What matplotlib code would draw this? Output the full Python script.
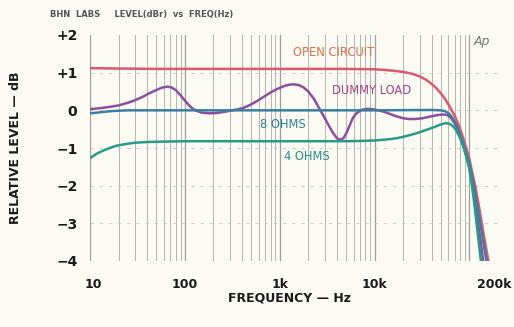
import matplotlib
matplotlib.use("Agg")
import matplotlib.pyplot as plt
import matplotlib.transforms as mtransforms

# ---- data ----
x_ticks = [10, 100, 1000, 10000, 200000]
x_tick_labels = ["10", "100", "1k", "10k", "200k"]
y_ticks = [2, 1, 0, -1, -2, -3, -4]
y_tick_labels = ["+2", "+1", "0", "\u22121", "\u22122", "\u22123", "\u22124"]

oc_f = [10, 20, 50, 100, 200, 500, 1000, 2000, 5000, 10000, 13000, 16000, 20000,
        25000, 30000, 35000, 40000, 45000, 50000, 55000, 60000, 65000, 70000,
        75000, 80000, 85000, 90000, 95000, 100000, 107000, 115000, 122000, 130000,
        137000, 145000, 152000, 160000, 170000]
oc_db = [1.12, 1.11, 1.1, 1.1, 1.1, 1.1, 1.1, 1.1, 1.1, 1.09, 1.07, 1.05, 1.02,
         0.97, 0.9, 0.81, 0.7, 0.58, 0.45, 0.31, 0.16, 0.0, -0.15, -0.32, -0.5,
         -0.7, -0.9, -1.1, -1.3, -1.65, -2.0, -2.35, -2.75, -3.1, -3.45, -3.75,
         -4.05, -4.4]

dl_f = [10, 13, 16, 20, 25, 30, 36, 42, 50, 57, 65, 72, 80, 90, 100, 110, 120,
        135, 150, 180, 220, 260, 300, 350, 410, 485, 580, 700, 820, 930, 1100,
        1250, 1400, 1600, 1800, 2000, 2300, 2600, 2900, 3200, 3600, 4000, 4300,
        4700, 5100, 5500, 5900, 6500, 7300, 8200, 9500, 11000, 13000, 15000,
        17000, 20000, 23000, 27000, 32000, 38000, 45000, 52000, 58000, 64000,
        70000, 75000, 80000, 85000, 90000, 95000, 100000, 107000, 115000, 122000,
        130000, 138000, 145000]
dl_db = [0.03, 0.06, 0.09, 0.13, 0.2, 0.27, 0.36, 0.45, 0.54, 0.6, 0.63, 0.61,
         0.54, 0.4, 0.26, 0.14, 0.05, -0.02, -0.06, -0.08, -0.07, -0.04, -0.01,
         0.02, 0.06, 0.14, 0.25, 0.38, 0.49, 0.56, 0.64, 0.68, 0.69, 0.67, 0.6,
         0.5, 0.3, 0.06, -0.15, -0.35, -0.58, -0.74, -0.78, -0.74, -0.58, -0.38,
         -0.2, -0.07, 0.01, 0.04, 0.03, 0.0, -0.05, -0.11, -0.16, -0.21, -0.23,
         -0.23, -0.21, -0.17, -0.13, -0.11, -0.12, -0.2, -0.35, -0.5, -0.7, -0.9,
         -1.1, -1.32, -1.55, -1.95, -2.45, -2.9, -3.4, -3.9, -4.3]

e_f = [10, 12, 14, 17, 20, 25, 30, 100, 1000, 10000, 40000, 50000, 55000, 60000,
       65000, 70000, 75000, 80000, 85000, 90000, 95000, 100000, 110000, 120000,
       130000, 140000, 150000, 160000]
e_db = [-0.08, -0.06, -0.04, -0.02, -0.01, 0.0, 0.0, 0.0, 0.0, 0.0, 0.01, 0.0,
        -0.02, -0.07, -0.17, -0.3, -0.46, -0.65, -0.85, -1.05, -1.22, -1.4,
        -1.95, -2.5, -3.0, -3.5, -3.95, -4.3]

f_f = [10, 11, 12, 13.5, 15, 17, 19, 22, 26, 30, 40, 60, 100, 1000, 5000, 8000,
       10000, 12500, 15000, 18000, 21000, 25000, 30000, 35000, 41000, 47000,
       52000, 57000, 62000, 67000, 72000, 77000, 82000, 87000, 92000, 100000,
       107000, 114000, 120000, 128000, 134000]
f_db = [-1.27, -1.2, -1.14, -1.08, -1.03, -0.98, -0.94, -0.91, -0.88, -0.86,
        -0.84, -0.83, -0.82, -0.82, -0.82, -0.81, -0.8, -0.78, -0.76, -0.73,
        -0.69, -0.64, -0.58, -0.52, -0.46, -0.4, -0.36, -0.34, -0.36, -0.42,
        -0.52, -0.66, -0.82, -1.0, -1.2, -1.55, -2.05, -2.6, -3.1, -3.7, -4.15]

series = [
    ("OPEN CIRCUIT", oc_f, oc_db, "#d85a70"),
    ("DUMMY LOAD", dl_f, dl_db, "#8c4f9c"),
    ("8 OHMS", e_f, e_db, "#3a7fa2"),
    ("4 OHMS", f_f, f_db, "#2a9a88"),
]

W, H = 514, 327
bg = "#fbfbf4"
fig = plt.figure(figsize=(W / 100, H / 100), dpi=100, facecolor=bg)
left, right, top, bottom = 90, 498, 35, 261
ax = fig.add_axes([left / W, 1 - bottom / H, (right - left) / W, (bottom - top) / H])
ax.set_facecolor(bg)
ax.set_xscale("log")
ax.set_xlim(10, 200000)
ax.set_ylim(-4, 2)

# vertical grid lines at every 1-2-...-9 step
for dec in [10, 100, 1000, 10000, 100000]:
    for m in range(1, 10):
        v = dec * m
        if v > 200000:
            break
        ax.axvline(v, color="#8e8e8e" if m == 1 else "#a8a8a8",
                   lw=0.9 if m == 1 else 0.7, alpha=0.85, zorder=1)
ax.axvline(200000, color="#a8a8a8", lw=0.8, zorder=1)
# horizontal dashed grid
for yv in [1, 0, -1, -2, -3, -4]:
    ax.axhline(yv, color="#c4c4c4", lw=0.6, ls=(0, (4, 7)), zorder=1)

for name, fx, fy, col in series:
    ax.plot(fx, fy, color=col, lw=1.8, zorder=3, solid_capstyle="round",
            solid_joinstyle="round")

for s in ax.spines.values():
    s.set_visible(False)
ax.set_xticks(x_ticks)
ax.set_xticklabels(x_tick_labels)
ax.xaxis.set_minor_locator(matplotlib.ticker.NullLocator())
ax.set_yticks(y_ticks)
ax.set_yticklabels(y_tick_labels)
ax.tick_params(axis="both", length=0, colors="#1a1a1a")
ax.tick_params(axis="x", pad=12, labelsize=9)
ax.tick_params(axis="y", pad=9, labelsize=10)
for t in ax.get_xticklabels() + ax.get_yticklabels():
    t.set_fontweight("bold")
# shift edge tick labels slightly, as in the reference
xl = ax.get_xticklabels()
xl[-1].set_transform(xl[-1].get_transform() +
                     mtransforms.ScaledTranslation(-4 / 100, 0, fig.dpi_scale_trans))
xl[0].set_transform(xl[0].get_transform() +
                    mtransforms.ScaledTranslation(3 / 100, 0, fig.dpi_scale_trans))

# curve labels
lab_kw = dict(fontsize=8.3, ha="center", va="center", zorder=4)
fig.text(334 / W, 1 - 52 / H, "OPEN CIRCUIT", color="#d4704f", **lab_kw)
fig.text(372 / W, 1 - 90 / H, "DUMMY LOAD", color="#a04584", **lab_kw)
fig.text(283 / W, 1 - 125 / H, "8 OHMS", color="#2b7f98", **lab_kw)
fig.text(307 / W, 1 - 157 / H, "4 OHMS", color="#2a8f86", **lab_kw)

fig.text(482 / W, 1 - 41 / H, "Ap", fontsize=9, style="italic", color="#777777",
         ha="center", va="center")
fig.text(50 / W, 1 - 15 / H, "BHN  LABS     LEVEL(dBr)  vs  FREQ(Hz)", fontsize=6,
         fontweight="bold", color="#555555", ha="left", va="center")

fig.text(290 / W, 1 - 298 / H, "FREQUENCY \u2014 Hz", fontsize=9, fontweight="bold",
         color="#1a1a1a", ha="center", va="center")
fig.text(16 / W, 1 - 148 / H, "RELATIVE LEVEL \u2014 dB", fontsize=9, fontweight="bold",
         color="#1a1a1a", ha="center", va="center", rotation=90)

fig.savefig("out.png", dpi=100, facecolor=bg)
